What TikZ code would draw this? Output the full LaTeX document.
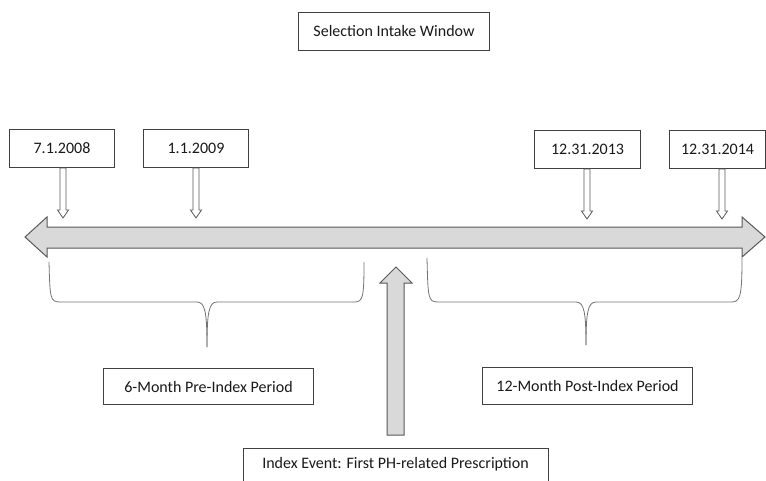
\documentclass[tikz,border=0pt]{standalone}
\usepackage{fontspec}
\setmainfont{Carlito}
\usetikzlibrary{calc}
\begin{document}
\begin{tikzpicture}[x=1pt,y=-1pt,
  box/.style={draw=black!75, line width=1pt, fill=white, inner sep=0pt, text=black!90,
    font=\fontsize{16}{19}\selectfont, anchor=north west},
  smallarr/.style={draw=black!65, line width=0.8pt, fill=white},
  bigarr/.style={draw=black!65, line width=1pt, fill=black!15},
  bracelt/.style={draw=black!55, line width=0.8pt}]
\useasboundingbox (0,0) rectangle (766,480);
\clip (0,0) rectangle (766,480);

% boxes
\node[box, minimum width=191pt, minimum height=38pt] (sel) at (298,12) {Selection Intake Window};
\node[box, minimum width=105pt, minimum height=38pt] (d1) at (9,129) {7.1.2008};
\node[box, minimum width=105pt, minimum height=38pt] (d2) at (143,129) {1.1.2009};
\node[box, minimum width=106pt, minimum height=38pt] (d3) at (534,130) {12.31.2013};
\node[box, minimum width=96pt, minimum height=38pt] (d4) at (669,130) {12.31.2014};
\node[box, minimum width=210pt, minimum height=36pt] (pre) at (103,368) {6-Month Pre-Index Period};
\node[box, minimum width=210pt, minimum height=37pt] (post) at (482,367) {12-Month Post-Index Period};
\node[box, draw=none, fill=none, minimum width=304pt, minimum height=31pt] (idx) at (243,448) {Index Event: First PH-related Prescription};
\draw[draw=black!75, line width=1pt] (idx.north west) rectangle ($(idx.south east)+(0,10)$);

% tip coordinates
\coordinate (t1) at (63,218);
\coordinate (t2) at (196,218);
\coordinate (t3) at (587,219);
\coordinate (t4) at (722,219);

% small down arrows
\foreach \n/\t in {d1/t1, d2/t2, d3/t3, d4/t4}{
  \path[smallarr] ($(\n.south -| \t)+(-3,0)$) -- ($(\t)+(-3,-8)$) -- ($(\t)+(-5.5,-8)$) -- (\t)
     -- ($(\t)+(5.5,-8)$) -- ($(\t)+(3,-8)$) -- ($(\n.south -| \t)+(3,0)$) -- cycle;
}

% big double arrow
\path[bigarr] (25,237) -- (47,217) -- (47,227) -- (742,227) -- (742,217) -- (765,237)
  -- (742,257) -- (742,248) -- (47,248) -- (47,257) -- cycle;

% braces
\draw[bracelt] (49,262) .. controls (50,298) and (50,302) .. (60,302) -- (197,302)
  .. controls (205,302) and (207,312) .. (207,347);
\draw[bracelt] (207,347) .. controls (207,312) and (209,302) .. (217,302) -- (354,302)
  .. controls (363,302) and (364,298) .. (364,262);
\draw[bracelt] (427,258) .. controls (428,298) and (428,302) .. (438,302) -- (576,302)
  .. controls (584,302) and (586,312) .. (586,345);
\draw[bracelt] (586,345) .. controls (586,312) and (588,302) .. (596,302) -- (731,302)
  .. controls (740,302) and (742,298) .. (742,258);

% index arrow
\coordinate (it) at (396,267);
\path[bigarr] (idx.north -| 387,0) ++(0,-13) -- (387,283) -- (380,283) -- (it) -- (412,283) -- (404,283) -- ($(idx.north -| 404,0)+(0,-13)$) -- cycle;
\end{tikzpicture}
\end{document}
